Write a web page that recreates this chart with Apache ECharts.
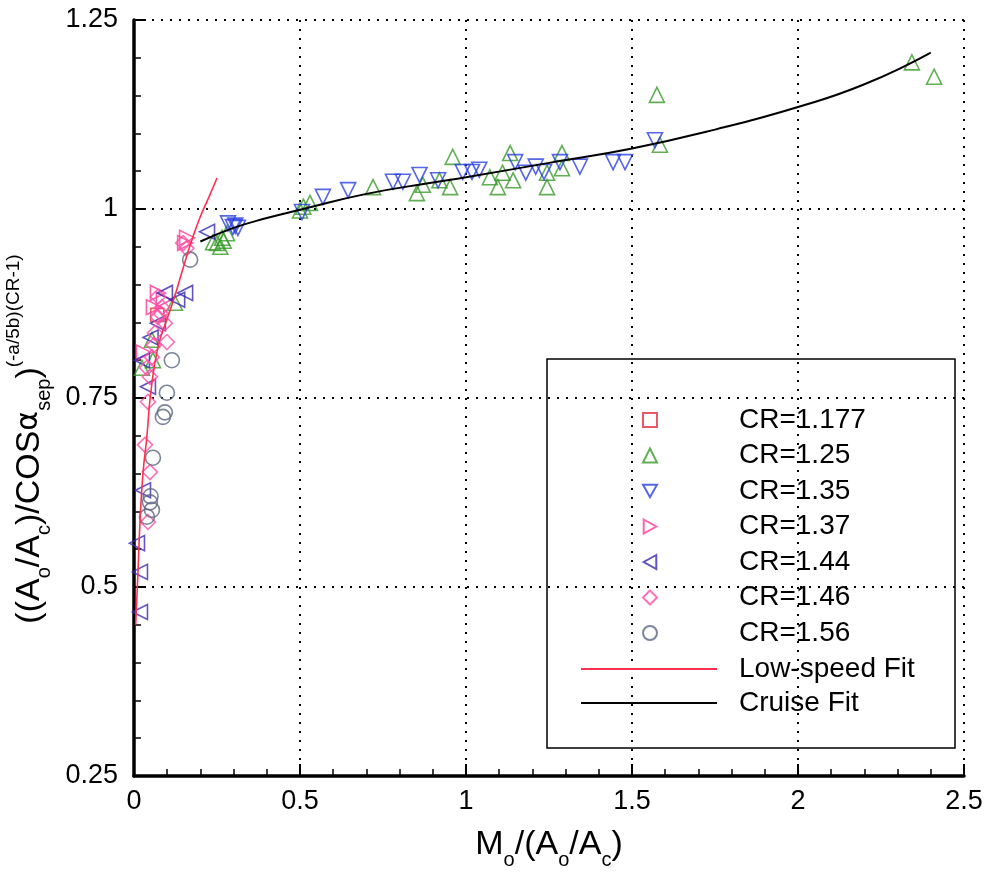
<!DOCTYPE html>
<html>
<head>
<meta charset="utf-8">
<script src="https://cdn.jsdelivr.net/npm/echarts@6/dist/echarts.min.js"></script>
<style>
  html, body { margin: 0; padding: 0; background: #fff; }
  #main { width: 990px; height: 873px; }
</style>
</head>
<body>
<div id="main"></div>
<script>
var xTicks = [0, 0.5, 1, 1.5, 2, 2.5];
var yTicks = [0.25, 0.5, 0.75, 1, 1.25];

var cr1177 = [[0.07, 0.86]];
var cr125 = [
    [0.25, 0.955], [0.265, 0.962], [0.27, 0.958], [0.28, 0.968], [0.26, 0.95], [0.238, 0.956],
    [0.5, 0.998], [0.51, 1.003], [0.53, 1.008], [0.72, 1.029],
    [0.852, 1.021], [0.87, 1.032], [0.92, 1.038], [0.952, 1.029], [0.96, 1.069],
    [1.072, 1.042], [1.096, 1.029], [1.11, 1.048], [1.133, 1.074], [1.142, 1.038],
    [1.244, 1.029], [1.244, 1.048], [1.289, 1.074], [1.289, 1.054],
    [1.575, 1.151], [1.584, 1.085], [2.343, 1.194], [2.41, 1.175],
    [0.123, 0.876], [0.054, 0.827], [0.057, 0.80], [0.024, 0.79]
];
var cr135 = [
    [0.283, 0.981], [0.298, 0.976], [0.313, 0.975], [0.305, 0.978], [0.506, 0.996],
    [0.569, 1.016], [0.645, 1.025], [0.78, 1.036], [0.81, 1.036], [0.86, 1.045],
    [0.916, 1.038], [0.99, 1.049], [1.018, 1.049], [1.04, 1.052], [1.148, 1.062],
    [1.18, 1.048], [1.21, 1.056], [1.235, 1.049], [1.283, 1.062], [1.343, 1.056],
    [1.443, 1.062], [1.479, 1.062], [1.569, 1.091]
];
var cr137 = [[0.154, 0.955], [0.16, 0.962], [0.072, 0.889], [0.09, 0.88], [0.06, 0.87], [0.03, 0.81]];
var cr144 = [
    [0.22, 0.97], [0.154, 0.889], [0.13, 0.88], [0.093, 0.889], [0.072, 0.849], [0.05, 0.83],
    [0.024, 0.80], [0.042, 0.765], [0.027, 0.628], [0.009, 0.558], [0.018, 0.52], [0.018, 0.467]
];
var cr146 = [
    [0.148, 0.955], [0.158, 0.948], [0.072, 0.884], [0.084, 0.87], [0.072, 0.857], [0.08, 0.862],
    [0.093, 0.849], [0.063, 0.836], [0.099, 0.824], [0.06, 0.82], [0.054, 0.804], [0.039, 0.79],
    [0.048, 0.778], [0.042, 0.745], [0.033, 0.688], [0.048, 0.652], [0.042, 0.586]
];
var cr156 = [
    [0.169, 0.933], [0.114, 0.80], [0.099, 0.757], [0.093, 0.731], [0.087, 0.725],
    [0.057, 0.671], [0.05, 0.62], [0.048, 0.612], [0.054, 0.602], [0.039, 0.593]
];
var lowSpeedFit = [
    [0.005, 0.45], [0.012, 0.52], [0.018, 0.585], [0.027, 0.65], [0.039, 0.70], [0.05, 0.755],
    [0.072, 0.817], [0.1, 0.855], [0.123, 0.885], [0.15, 0.925], [0.175, 0.96], [0.2, 0.99],
    [0.225, 1.015], [0.25, 1.041]
];
var cruiseFit = [
    [0.2, 0.957], [0.3, 0.975], [0.4, 0.988], [0.5, 0.999], [0.7, 1.02], [0.9, 1.035],
    [1.0, 1.042], [1.25, 1.061], [1.5, 1.08], [1.75, 1.105], [2.0, 1.135], [2.2, 1.165], [2.4, 1.207]
];

var FONT = 'Liberation Sans';

// triangle outlines for the legend (rotation is not picked up there)
var TRI_DOWN = 'path://M0,0 L10,0 L5,9 Z';
var TRI_RIGHT = 'path://M0,0 L9,5 L0,10 Z';
var TRI_LEFT = 'path://M9,0 L0,5 L9,10 Z';

var chart = echarts.init(document.getElementById('main'));

function scatter(name, data, symbol, rotate, color, size) {
    return {
        name: name,
        type: 'scatter',
        data: data,
        symbol: symbol,
        symbolRotate: rotate,
        symbolSize: size,
        itemStyle: { color: 'rgba(0,0,0,0)', borderColor: color, borderWidth: 1.6 },
        z: 3
    };
}

var nameRich = {
    m: { fontSize: 34, fontFamily: FONT, lineHeight: 50, color: '#000' },
    sub: { fontSize: 20, fontFamily: FONT, lineHeight: 22, verticalAlign: 'bottom', color: '#000' },
    sup: { fontSize: 19, fontFamily: FONT, lineHeight: 16, verticalAlign: 'top', color: '#000' },
    al: { fontSize: 30, fontFamily: 'DejaVu Sans', lineHeight: 50, color: '#000' }
};

var option = {
    backgroundColor: '#fff',
    animation: false,
    grid: { left: 134, right: 26, top: 20, bottom: 97, outerBoundsMode: 'none' },
    xAxis: {
        type: 'value',
        min: xTicks[0],
        max: xTicks[xTicks.length - 1],
        interval: 0.5,
        name: '{m|M}{sub|o}{m|/(A}{sub|o}{m|/A}{sub|c}{m|)}',
        nameLocation: 'middle',
        nameGap: 44,
        nameTextStyle: { rich: nameRich },
        axisLine: { lineStyle: { color: '#000', width: 3.5 } },
        axisTick: { inside: true, length: 12, lineStyle: { color: '#000', width: 2 } },
        minorTick: { show: true, splitNumber: 5, length: 7, lineStyle: { color: '#000', width: 1.5 } },
        axisLabel: { fontSize: 27, fontFamily: FONT, color: '#000', margin: 12 },
        splitLine: { show: true, lineStyle: { color: '#000', width: 2, type: [2, 7] } }
    },
    yAxis: {
        type: 'value',
        min: yTicks[0],
        max: yTicks[yTicks.length - 1],
        interval: 0.25,
        name: '{m|((A}{sub|o}{m|/A}{sub|c}{m|)/COS}{al|α}{sub|sep}{m|)}{sup|(-a/5b)(CR-1)}',
        nameLocation: 'middle',
        nameRotate: 90,
        nameGap: 72,
        nameTextStyle: { rich: nameRich, padding: [0, 82, 0, 0] },
        axisLine: { lineStyle: { color: '#000', width: 3.5 } },
        axisTick: { inside: true, length: 12, lineStyle: { color: '#000', width: 2 } },
        minorTick: { show: true, splitNumber: 5, length: 7, lineStyle: { color: '#000', width: 1.5 } },
        axisLabel: { fontSize: 27, fontFamily: FONT, color: '#000', margin: 16 },
        splitLine: { show: true, lineStyle: { color: '#000', width: 2, type: [2, 7] } }
    },
    legend: [
        {
            data: [
                { name: 'CR=1.177', icon: 'rect' },
                { name: 'CR=1.25', icon: 'triangle' },
                { name: 'CR=1.35', icon: TRI_DOWN },
                { name: 'CR=1.37', icon: TRI_RIGHT },
                { name: 'CR=1.44', icon: TRI_LEFT },
                { name: 'CR=1.46', icon: 'diamond' },
                { name: 'CR=1.56', icon: 'circle' }
            ],
            orient: 'vertical',
            left: 642,
            top: 406,
            padding: 0,
            itemWidth: 14,
            itemHeight: 14,
            itemGap: 7.5,
            selectedMode: false,
            formatter: function (n) { return '{g|}{t|' + n + '}'; },
            textStyle: {
                rich: {
                    g: { width: 77 },
                    t: { fontSize: 28, fontFamily: FONT, color: '#000', lineHeight: 28 }
                }
            }
        },
        {
            data: ['Low-speed Fit', 'Cruise Fit'],
            orient: 'vertical',
            left: 580,
            top: 655,
            padding: 0,
            itemWidth: 136,
            itemHeight: 14,
            itemGap: 6,
            selectedMode: false,
            itemStyle: { color: 'rgba(0,0,0,0)', borderColor: 'rgba(0,0,0,0)', borderWidth: 0 },
            formatter: function (n) { return '{g|}{t|' + n + '}'; },
            textStyle: {
                rich: {
                    g: { width: 17 },
                    t: { fontSize: 28, fontFamily: FONT, color: '#000', lineHeight: 28 }
                }
            }
        }
    ],
    graphic: [
        {
            type: 'rect',
            shape: { x: 547, y: 359, width: 408, height: 389 },
            style: { fill: 'none', stroke: '#000', lineWidth: 1.5 },
            z: 10
        }
    ],
    series: [
        scatter('CR=1.177', cr1177, 'rect', 0, '#e63040', 13),
        scatter('CR=1.25', cr125, 'triangle', 0, '#3a9a2a', 15),
        scatter('CR=1.35', cr135, 'triangle', 180, '#2a40e0', 15),
        scatter('CR=1.37', cr137, 'triangle', -90, '#ff3c9a', 15),
        scatter('CR=1.44', cr144, 'triangle', 90, '#3a2ab0', 15),
        scatter('CR=1.46', cr146, 'diamond', 0, '#ff4da6', 15),
        scatter('CR=1.56', cr156, 'circle', 0, '#5c6680', 15),
        {
            name: 'Low-speed Fit',
            type: 'line',
            data: lowSpeedFit,
            smooth: true,
            symbol: 'none',
            lineStyle: { color: '#ff3050', width: 1.6 },
            itemStyle: { color: '#ff3050' },
            z: 4
        },
        {
            name: 'Cruise Fit',
            type: 'line',
            data: cruiseFit,
            smooth: true,
            symbol: 'none',
            lineStyle: { color: '#000', width: 2 },
            itemStyle: { color: '#000' },
            z: 4
        }
    ]
};

chart.setOption(option);
</script>
</body>
</html>
